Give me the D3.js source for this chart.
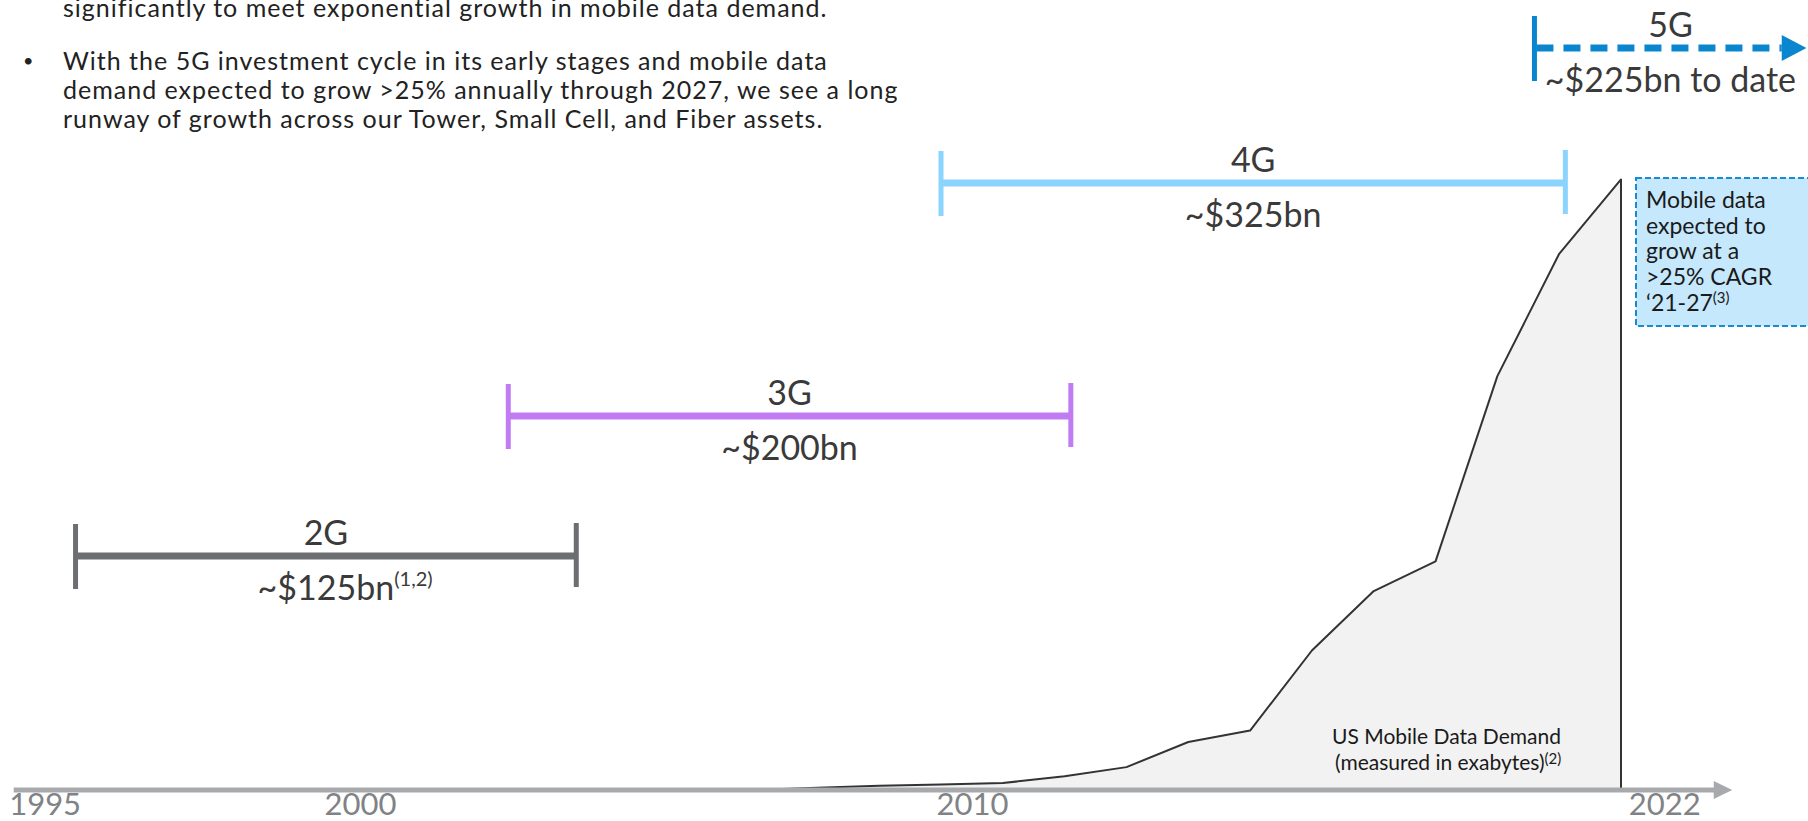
<!DOCTYPE html>
<html>
<head>
<meta charset="utf-8">
<script src="https://cdn.jsdelivr.net/npm/d3@7"></script>
<style>
  body { margin: 0; background: #fff; }
  svg { display: block; font-family: Lato, "Noto Sans", sans-serif; }
</style>
</head>
<body>
<div id="chart"></div>
<script>
// US mobile data demand (exabytes)
const years = [2007, 2008, 2009, 2010, 2011, 2012, 2013, 2014, 2015, 2016, 2017, 2018, 2019, 2020, 2021];
const demand = [0, 0.2, 0.38, 0.48, 0.61, 1.2, 2.0, 4.2, 5.2, 12.2, 17.4, 20.0, 36.2, 46.9, 53.4];

// axis labels
const tickAt = [1995.5, 2000.6, 2010.5, 2021.7];
const tickLabels = ["1995", "2000", "2010", "2022"];

// network generations
const genNames = ["2G", "3G", "4G", "5G"];
const genStart = [1996, 2003, 2010, 2019.6];
const genEnd = [2004.1, 2012.1, 2020.1, 2024];
const genCapex = ["~$125bn", "~$200bn", "~$325bn", "~$225bn to date"];
const genNotes = ["(1,2)", "", "", ""];

const bullets = [
    ["significantly to meet exponential growth in mobile data demand."],
    ["With the 5G investment cycle in its early stages and mobile data",
     "demand expected to grow >25% annually through 2027, we see a long",
     "runway of growth across our Tower, Small Cell, and Fiber assets."]
];
const calloutLines = ["Mobile data", "expected to", "grow at a", ">25% CAGR", "\u201821-27"];

function init() {
    var w = 1808;
    var h = 821;
    var axisY = 790;

    const genLevel = [556, 416, 183, 48];
    const genColor = ["#6d6e71", "#c17cf4", "#8ad4fe", "#0a86cf"];

    const svg = d3.select("#chart")
        .append("svg")
        .attr("width", w)
        .attr("height", h);

    const x = d3.scaleLinear()
        .domain([2010, 2021])
        .range([941, 1621]);

    const y = d3.scaleLinear()
        .domain([0, 60])
        .range([axisY, 104]);

    const pts = years.map((yr, i) => ({ yr: yr, v: demand[i] }));

    // text block at the top
    const para = svg.append("g")
        .attr("font-size", 25)
        .attr("letter-spacing", 1)
        .attr("fill", "#222");
    const paraY = [17, 70];
    bullets.forEach((lines, b) => {
        lines.forEach((line, i) => {
            para.append("text")
                .attr("x", 63)
                .attr("y", paraY[b] + i * 29)
                .text(line);
        });
        if (b > 0) {
            para.append("text").attr("x", 23).attr("y", paraY[b] - 3)
                .attr("font-size", 18).text("\u2022");
        }
    });

    // demand area
    const area = d3.area()
        .x(d => x(d.yr))
        .y0(axisY)
        .y1(d => y(d.v));

    svg.append("path")
        .datum(pts)
        .attr("d", area)
        .attr("fill", "#f2f2f2");

    const last = pts[pts.length - 1];
    const line = d3.line().x(d => x(d.yr)).y(d => y(d.v));
    svg.append("path")
        .datum(pts.concat([{ yr: last.yr, v: 0 }]))
        .attr("d", line)
        .attr("fill", "none")
        .attr("stroke", "#333")
        .attr("stroke-width", 2)
        .attr("stroke-linejoin", "round");

    // x axis with arrow
    svg.append("line")
        .attr("x1", x(1995)).attr("x2", x(2022.55))
        .attr("y1", axisY).attr("y2", axisY)
        .attr("stroke", "#a7a9ac")
        .attr("stroke-width", 5);
    svg.append("path")
        .attr("d", `M${x(2022.5)},${axisY - 9}L${x(2022.8)},${axisY}L${x(2022.5)},${axisY + 9}Z`)
        .attr("fill", "#a7a9ac");

    const xAxis = d3.axisBottom(x)
        .tickValues(tickAt)
        .tickFormat((d, i) => tickLabels[i])
        .tickSize(0)
        .tickPadding(0);

    const ax = svg.append("g")
        .attr("transform", `translate(0, ${axisY})`)
        .call(xAxis);
    ax.select(".domain").remove();
    ax.selectAll("text")
        .attr("font-family", "Lato, sans-serif")
        .attr("font-size", 31)
        .attr("fill", "#808285")
        .attr("dy", null)
        .attr("y", 25);

    // demand label
    svg.append("text")
        .attr("x", 1332).attr("y", 744)
        .attr("font-size", 21).attr("fill", "#1a1a1a")
        .text("US Mobile Data Demand");
    const l2 = svg.append("text")
        .attr("x", 1335).attr("y", 770)
        .attr("font-size", 21).attr("fill", "#1a1a1a");
    l2.append("tspan").text("(measured in exabytes)");
    l2.append("tspan").attr("font-size", 15).attr("dy", -6).text("(2)");

    // generation brackets
    genNames.forEach((name, i) => {
        const g = svg.append("g");
        const x0 = x(genStart[i]);
        const x1 = x(genEnd[i]);
        const ly = genLevel[i];
        const col = genColor[i];
        const mid = (x0 + x1) / 2;

        g.append("line")
            .attr("x1", x0).attr("x2", x0)
            .attr("y1", ly - 32).attr("y2", ly + 33)
            .attr("stroke", col).attr("stroke-width", 5);

        if (name === "5G") {
            g.append("line")
                .attr("x1", x0 + 2).attr("x2", x(2023.6))
                .attr("y1", ly).attr("y2", ly)
                .attr("stroke", col).attr("stroke-width", 7)
                .attr("stroke-dasharray", "17,10");
            g.append("path")
                .attr("d", `M${x(2023.6)},${ly - 13}L${x1},${ly}L${x(2023.6)},${ly + 13}Z`)
                .attr("fill", col);
        } else {
            g.append("line")
                .attr("x1", x0).attr("x2", x1)
                .attr("y1", ly).attr("y2", ly)
                .attr("stroke", col).attr("stroke-width", 7);
            g.append("line")
                .attr("x1", x1).attr("x2", x1)
                .attr("y1", ly - 33).attr("y2", ly + 31)
                .attr("stroke", col).attr("stroke-width", 5);
        }

        g.append("text")
            .attr("x", mid).attr("y", ly - 11)
            .attr("text-anchor", "middle")
            .attr("font-size", 34).attr("fill", "#3a3a3a")
            .text(name);

        const t = g.append("text")
            .attr("y", ly + 44)
            .attr("font-size", 34).attr("fill", "#3a3a3a");
        t.append("tspan").text(genCapex[i]);
        const tw = t.node().getComputedTextLength();
        t.attr("x", mid - tw / 2);
        if (genNotes[i]) {
            t.append("tspan").attr("font-size", 20).attr("dy", -14).text(genNotes[i]);
        }
    });

    // callout box
    svg.append("rect")
        .attr("x", 1636).attr("y", 178)
        .attr("width", 200).attr("height", 148)
        .attr("fill", "#c6e8fc")
        .attr("stroke", "#1a8ad2")
        .attr("stroke-width", 2)
        .attr("stroke-dasharray", "6,3");

    calloutLines.forEach((s, i) => {
        const t = svg.append("text")
            .attr("x", 1646).attr("y", 208 + i * 25.7)
            .attr("font-size", 23).attr("fill", "#1a1a1a");
        t.append("tspan").text(s);
        if (i === calloutLines.length - 1) {
            t.append("tspan").attr("font-size", 15).attr("dy", -8).text("(3)");
        }
    });
}

window.onload = init;
</script>
</body>
</html>
